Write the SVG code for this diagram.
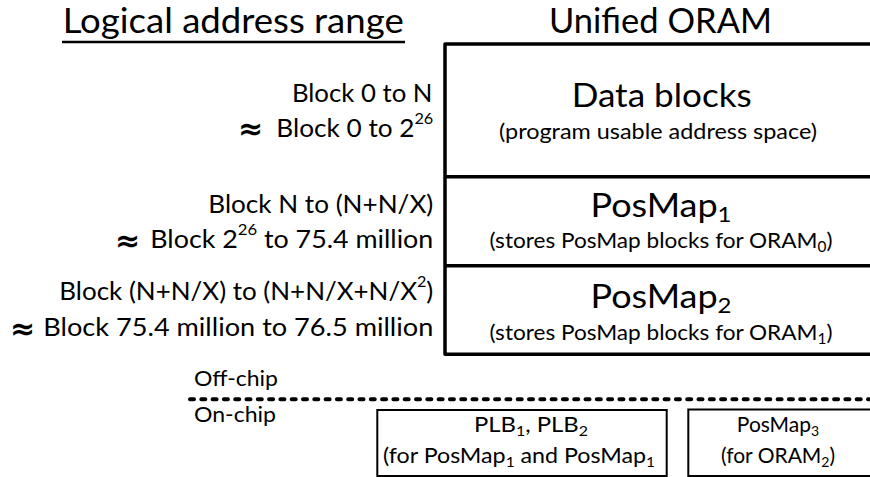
<svg xmlns="http://www.w3.org/2000/svg" width="870" height="477" viewBox="0 0 870 477">
<style>
text{font-family:Lato,"Liberation Sans",sans-serif;fill:#000}
.hdr{font-size:34px}
.lbl{font-size:25.8px;text-anchor:end}
.apx{font-family:"DejaVu Sans",sans-serif;font-size:30px;font-weight:bold}
.ttl{font-size:33px;text-anchor:middle}
.sub{font-size:22px;text-anchor:middle}
.sm{font-size:21px}
.mid{text-anchor:middle}
.box{fill:none;stroke:#000;stroke-width:3.5;stroke-linejoin:round}
.div{stroke:#000;stroke-width:3.5}
.thin{fill:none;stroke:#000;stroke-width:2}
</style>
<rect x="0" y="0" width="870" height="477" fill="#fff"/>
<g id="headers">
<text class="hdr" x="62.7" y="33" textLength="341" lengthAdjust="spacingAndGlyphs">Logical address range</text>
<line x1="62" y1="42" x2="405" y2="42" stroke="#000" stroke-width="2.5"/>
<text class="hdr" x="549" y="33" textLength="223" lengthAdjust="spacingAndGlyphs">Unified ORAM</text>
</g>
<g id="address-labels">
<text class="lbl" x="432.5" y="101.7" textLength="140.6" lengthAdjust="spacingAndGlyphs">Block 0 to N</text>
<text class="apx" x="238" y="139">≈</text>
<text class="lbl" x="433.3" y="136.7" textLength="157" lengthAdjust="spacingAndGlyphs">Block 0 to 2<tspan dy="-13" font-size="16">26</tspan></text>
<text class="lbl" x="433.3" y="212.7" textLength="225" lengthAdjust="spacingAndGlyphs">Block N to (N+N/X)</text>
<text class="apx" x="115" y="250.5">≈</text>
<text class="lbl" x="433.3" y="248.3" textLength="283" lengthAdjust="spacingAndGlyphs">Block 2<tspan dy="-13" font-size="16">26</tspan><tspan dy="13"> to 75.4 million</tspan></text>
<text class="lbl" x="433.3" y="300" textLength="374" lengthAdjust="spacingAndGlyphs">Block (N+N/X) to (N+N/X+N/X<tspan dy="-13" font-size="16">2</tspan><tspan dy="13">)</tspan></text>
<text class="apx" x="10" y="338.5">≈</text>
<text class="lbl" x="433.3" y="336" textLength="390" lengthAdjust="spacingAndGlyphs">Block 75.4 million to 76.5 million</text>
</g>
<g id="unified-oram">
<rect class="box" x="445" y="44" width="450" height="310.3"/>
<line class="div" x1="445" y1="176.7" x2="872" y2="176.7"/>
<line class="div" x1="445" y1="265.7" x2="872" y2="265.7"/>
</g>
<g id="data-blocks">
<text class="ttl" x="661.7" y="106.5" textLength="180" lengthAdjust="spacingAndGlyphs">Data blocks</text>
<text class="sub" x="658" y="139" textLength="318" lengthAdjust="spacingAndGlyphs">(program usable address space)</text>
</g>
<g id="posmap1">
<text class="ttl" x="661" y="216.7" textLength="141" lengthAdjust="spacingAndGlyphs">PosMap<tspan font-size="22" dy="5">1</tspan></text>
<text class="sub" x="661" y="248.3" textLength="343" lengthAdjust="spacingAndGlyphs">(stores PosMap blocks for ORAM<tspan font-size="15" dy="4">0</tspan><tspan dy="-4">)</tspan></text>
</g>
<g id="posmap2">
<text class="ttl" x="661" y="308.3" textLength="141" lengthAdjust="spacingAndGlyphs">PosMap<tspan font-size="22" dy="5">2</tspan></text>
<text class="sub" x="661" y="340" textLength="343" lengthAdjust="spacingAndGlyphs">(stores PosMap blocks for ORAM<tspan font-size="15" dy="4">1</tspan><tspan dy="-4">)</tspan></text>
</g>
<g id="chip-boundary">
<text class="sm" x="194" y="386" textLength="84" lengthAdjust="spacingAndGlyphs">Off-chip</text>
<line x1="190" y1="399.3" x2="872" y2="399.3" stroke="#000" stroke-width="4" stroke-dasharray="4 7.3" stroke-linecap="round"/>
<text class="sm" x="194" y="422" textLength="82" lengthAdjust="spacingAndGlyphs">On-chip</text>
</g>
<g id="plb">
<rect class="thin" x="377.3" y="410" width="289.4" height="66"/>
<text class="sm mid" x="531" y="431.7" textLength="114" lengthAdjust="spacingAndGlyphs">PLB<tspan font-size="14" dy="4">1</tspan><tspan dy="-4">, PLB</tspan><tspan font-size="14" dy="4">2</tspan></text>
<text class="sm mid" x="519" y="463.3" textLength="272" lengthAdjust="spacingAndGlyphs">(for PosMap<tspan font-size="14" dy="4">1</tspan><tspan dy="-4"> and PosMap</tspan><tspan font-size="14" dy="4">1</tspan></text>
</g>
<g id="posmap3">
<rect class="thin" x="688.3" y="409.5" width="200" height="66.5"/>
<text class="sm mid" x="778" y="431.7">PosMap<tspan font-size="14" dy="4">3</tspan></text>
<text class="sm mid" x="778" y="463.3">(for ORAM<tspan font-size="14" dy="4">2</tspan><tspan dy="-4">)</tspan></text>
</g>
</svg>
